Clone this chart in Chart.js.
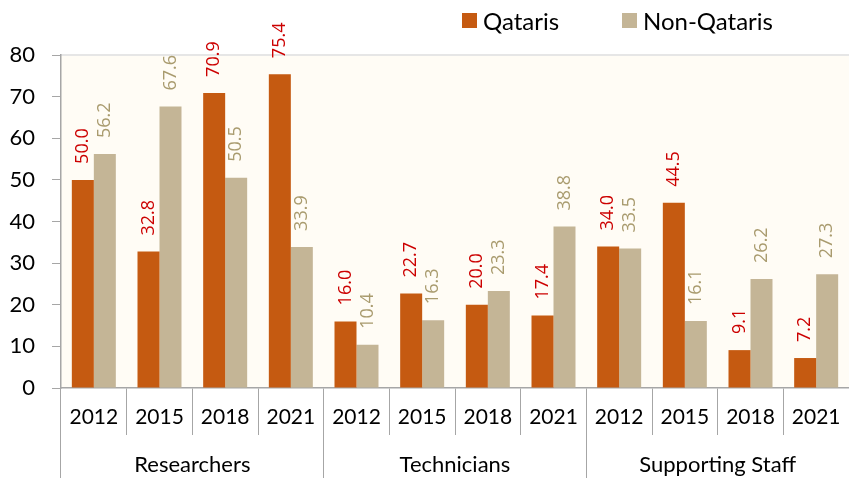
<!DOCTYPE html>
<html><head><meta charset="utf-8">
<script src="https://cdn.jsdelivr.net/npm/chart.js@4.4.1/dist/chart.umd.min.js"></script>
<style>
html,body{margin:0;padding:0;background:#fff;}
#wrap{position:relative;width:849px;height:478px;}
#legend{position:absolute;top:0;left:0;width:849px;height:50px;font-family:Lato,"Open Sans",sans-serif;font-size:24px;color:#000;}
.li{position:absolute;top:6px;display:flex;align-items:center;}
.sw{width:15px;height:15px;margin-right:6px;}
</style></head>
<body>
<div id="wrap">
<canvas id="c" width="849" height="478"></canvas>
<div id="legend">
  <div class="li" style="left:462px"><div class="sw" style="background:#C55A11"></div><span>Qataris</span></div>
  <div class="li" style="left:622px"><div class="sw" style="background:#C4B596"></div><span>Non-Qataris</span></div>
</div>
</div>
<script>
const years = ["2012","2015","2018","2021","2012","2015","2018","2021","2012","2015","2018","2021"];
const groups = ["Researchers","Technicians","Supporting Staff"];
const qataris = [50.0,32.8,70.9,75.4,16.0,22.7,20.0,17.4,34.0,44.5,9.1,7.2];
const nonQataris = [56.2,67.6,50.5,33.9,10.4,16.3,23.3,38.8,33.5,16.1,26.2,27.3];
const yTicks = [0,10,20,30,40,50,60,70,80];

const bgPlugin = {
  id:'bg',
  beforeDraw(chart){
    const {ctx, chartArea:a} = chart;
    ctx.save();
    ctx.fillStyle = '#FFFCF5';
    ctx.fillRect(a.left, a.top, a.right-a.left, a.bottom-a.top);
    ctx.strokeStyle = '#E6E6E6';
    ctx.lineWidth = 2;
    ctx.beginPath(); ctx.moveTo(a.left, a.top); ctx.lineTo(a.right, a.top); ctx.stroke();
    ctx.restore();
  }
};
const labelPlugin = {
  id:'vals',
  afterDatasetsDraw(chart){
    const ctx = chart.ctx;
    const colors = ['#CC0000','#A99B6E'];
    chart.data.datasets.forEach((ds,i)=>{
      const meta = chart.getDatasetMeta(i);
      meta.data.forEach((el,j)=>{
        ctx.save();
        ctx.translate(el.x, el.y - 16);
        ctx.rotate(-Math.PI/2);
        ctx.font = '18px "Open Sans", sans-serif';
        ctx.fillStyle = colors[i];
        ctx.textAlign = 'left';
        ctx.textBaseline = 'middle';
        ctx.fillText(ds.data[j].toFixed(1), 0, 0);
        ctx.restore();
      });
    });
  }
};

new Chart(document.getElementById('c'), {
  type:'bar',
  data:{
    labels: years,
    datasets:[
      {label:'Qataris', data:qataris, backgroundColor:'#C55A11', barPercentage:1.0, categoryPercentage:0.67},
      {label:'Non-Qataris', data:nonQataris, backgroundColor:'#C4B596', barPercentage:1.0, categoryPercentage:0.67}
    ]
  },
  options:{
    responsive:false, animation:false,
    layout:{padding:{top:55,left:0,right:0,bottom:0}},
    plugins:{legend:{display:false}, tooltip:{enabled:false}},
    scales:{
      x:{
        type:'category', position:'bottom', weight:0,
        grid:{offset:true, drawOnChartArea:false, tickLength:47, color:'#A6A6A6', lineWidth:1},
        border:{display:true, color:'#A6A6A6', width:1.5},
        ticks:{font:{family:'Lato', size:21}, color:'#000', padding:-30, maxRotation:0, autoSkip:false},
        afterFit(s){ s.height = 47; }
      },
      x2:{
        type:'category', position:'bottom', weight:1, labels:groups, offset:true,
        grid:{offset:true, drawOnChartArea:false, tickLength:43, color:'#A6A6A6', lineWidth:1},
        border:{display:false},
        ticks:{font:{family:'Lato', size:22}, color:'#000', padding:-26, maxRotation:0, autoSkip:false},
        afterFit(s){ s.height = 43; }
      },
      y:{
        min:0, max:80,
        afterBuildTicks(s){ s.ticks = yTicks.map(v=>({value:v})); },
        grid:{drawOnChartArea:false, tickLength:9, color:'#A6A6A6'},
        border:{display:true, color:'#A6A6A6', width:1.5},
        ticks:{font:{family:'Lato', size:22}, color:'#000', padding:17},
        afterFit(s){ s.width = 61; }
      }
    }
  },
  plugins:[bgPlugin, labelPlugin]
});
</script>
</body></html>
